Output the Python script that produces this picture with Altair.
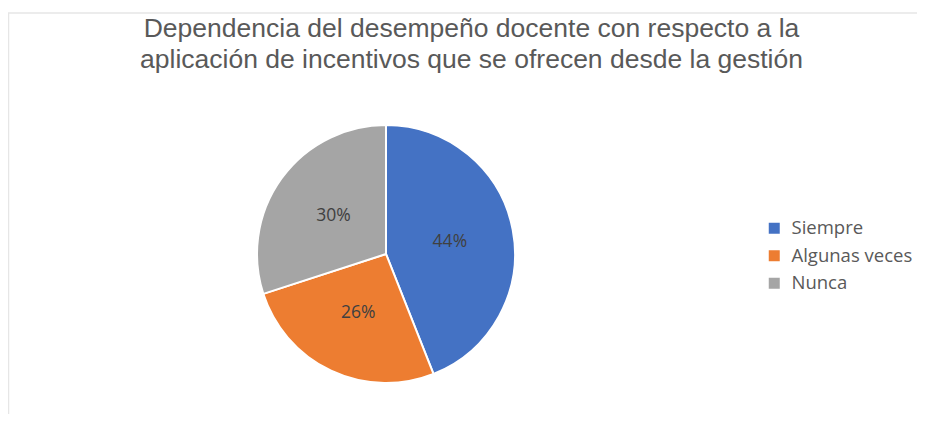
import altair as alt
import pandas as pd

categories = ["Siempre", "Algunas veces", "Nunca"]
values = [44, 26, 30]
labels = ["44%", "26%", "30%"]
colors = ["#4472C4", "#ED7D31", "#A5A5A5"]
title_lines = ["Dependencia del desempeño docente con respecto a la",
               "aplicación de incentivos que se ofrecen desde la gestión"]

df = pd.DataFrame({"cat": categories, "value": values, "label": labels,
                   "idx": list(range(len(categories)))})

CX, CY = 378, 246

base = alt.Chart(df).encode(
    theta=alt.Theta("value:Q", stack=True),
    order=alt.Order("idx:Q"),
)

pie = base.mark_arc(outerRadius=129, stroke="white", strokeWidth=2).encode(
    x=alt.value(CX),
    y=alt.value(CY),
    color=alt.Color(
        "cat:N",
        scale=alt.Scale(domain=categories, range=colors),
        legend=alt.Legend(
            title=None,
            orient="none",
            legendX=757,
            legendY=211,
            symbolType="square",
            symbolSize=121,
            symbolStrokeWidth=0,
            labelFont="Open Sans",
            labelFontSize=18.5,
            labelColor="#595959",
            rowPadding=8.5,
            labelOffset=8,
        ),
    ),
)

text = base.mark_text(radius=65, font="Open Sans", fontSize=17.5, color="#404040").encode(
    x=alt.value(CX),
    y=alt.value(CY),
    text="label:N",
)

one = pd.DataFrame({"k": [0]})
title = alt.Chart(one).mark_text(
    text=title_lines,
    font="Liberation Sans",
    fontSize=26.5,
    color="#595959",
    lineHeight=31.6,
    align="center",
    baseline="alphabetic",
).encode(x=alt.value(463.5), y=alt.value(28.7))

top_rule = alt.Chart(one).mark_rule(color="#e6e6e6", strokeWidth=1.5).encode(
    x=alt.value(0), x2=alt.value(909), y=alt.value(5)
)
left_rule = alt.Chart(one).mark_rule(color="#e6e6e6", strokeWidth=1.5).encode(
    x=alt.value(0.5), y=alt.value(5), y2=alt.value(407)
)

chart = alt.layer(top_rule, left_rule, title, pie, text).properties(
    width=909,
    height=406,
    autosize=alt.AutoSizeParams(type="none"),
    padding=0,
).configure_view(stroke=None)

chart.save("out.html", embed_options={"renderer": "svg", "actions": False})
